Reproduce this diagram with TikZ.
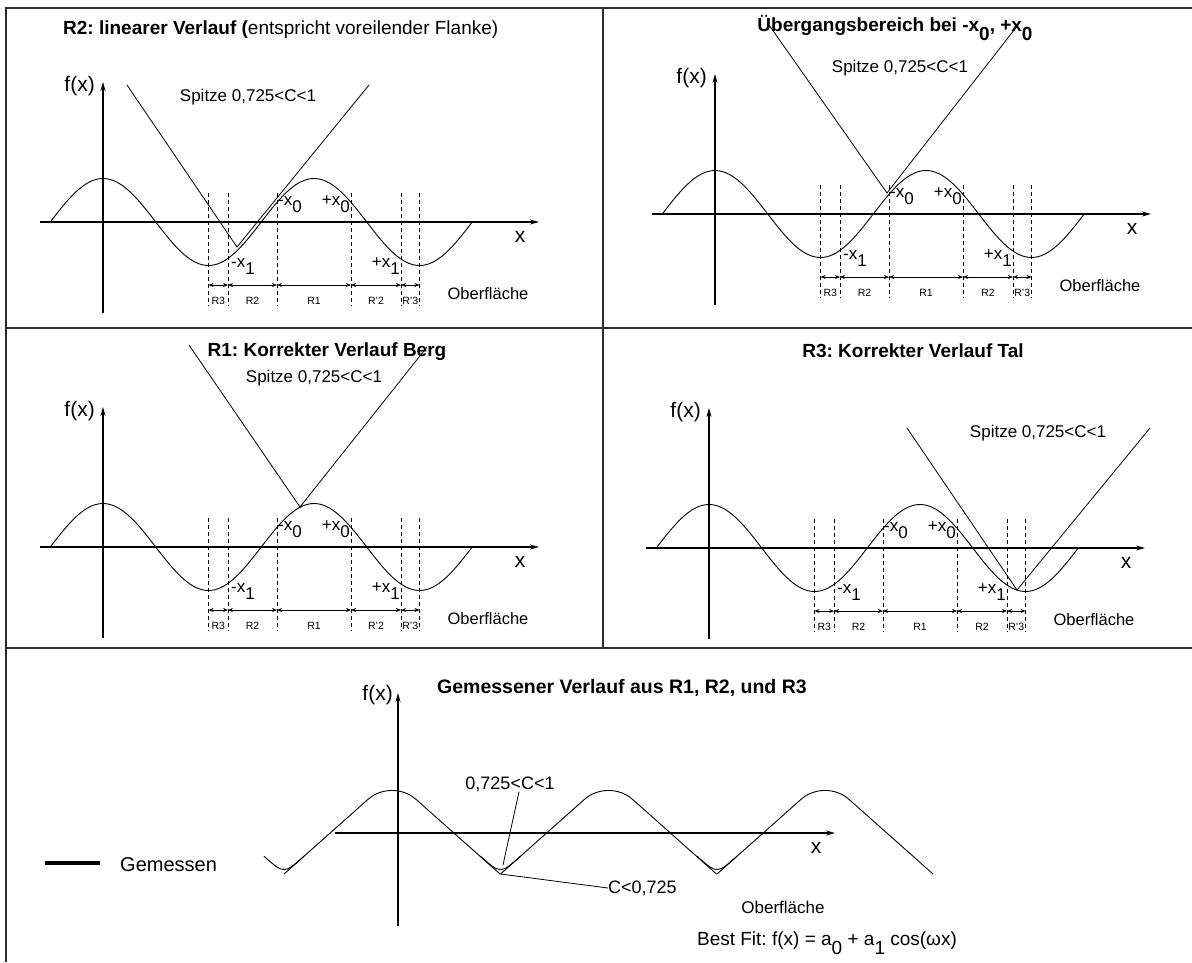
\documentclass[tikz,border=0pt]{standalone}
\usepackage{fontspec}
\setmainfont{Liberation Sans}
\usetikzlibrary{arrows.meta, positioning}
\definecolor{framegray}{RGB}{45, 45, 45}
\frenchspacing

\tikzset{
  frameline/.style={framegray, line width=1.8pt},
  axis/.style={line width=1.1pt, -{Stealth[length=9pt, width=5pt]}},
  curve/.style={line width=0.9pt},
  vline/.style={line width=0.8pt},
  guide/.style={line width=0.7pt, dash pattern=on 4pt off 3pt},
  span/.style={line width=0.7pt, {Stealth[length=5pt, width=4pt]}-{Stealth[length=5pt, width=4pt]}},
  title/.style={inner sep=0pt, font=\fontsize{19}{22}\selectfont\bfseries},
  axlabel/.style={inner sep=0pt, font=\fontsize{21}{24}\selectfont},
  spitze/.style={inner sep=0pt, font=\fontsize{17}{20}\selectfont},
  surface/.style={inner sep=0pt, font=\fontsize{16.5}{19}\selectfont},
  xmark/.style={inner sep=0pt, font=\fontsize{17}{20}\selectfont},
  region/.style={inner sep=0pt, font=\fontsize{10.5}{12}\selectfont},
  bottomtext/.style={inner sep=0pt, font=\fontsize{18}{21}\selectfont}
}
\newcommand{\low}[1]{\raisebox{-0.45em}{#1}}

\begin{document}
\begin{tikzpicture}[x=1pt, y=-1pt]

  \useasboundingbox (0, 0) rectangle (1192, 962);

  % frame
  \draw[frameline] (1192, 8) -- (6, 8) -- (6, 962);
  \draw[frameline] (603, 8) -- (603, 648);
  \draw[frameline] (6, 328) -- (1192, 328);
  \draw[frameline] (6, 648) -- (1192, 648);

  % the four small plots
  \pgfmathsetmacro{\freq}{360 / 211}
  \foreach \p/\ox/\oy/\rr in {a/103/222/R'2, b/715/214/R2, c/103/547/R'2, d/709/548/R2} {
    \begin{scope}[shift={(\ox, \oy)}]

      \draw[axis] (0, 91) -- (0, -140);
      \draw[axis] (-63, 0) -- (436, 0);
      \node[axlabel, anchor=east] (fx\p) at (-8, -136) {f(x)};
      \node[axlabel] (x\p) at (417, 15) {x};

      \draw[curve, domain=-52.75:369.25, samples=140, smooth]
        plot (\x, {-43.5 * cos(\freq * \x)});

      \foreach \xx in {105.5, 125, 174, 248, 298, 316.5} {
        \draw[guide] (\xx, -29) -- (\xx, 84);
      }
      \foreach \a/\b/\r in {105.5/125/R3, 125/174/R2, 174/248/R1, 248/298/\rr, 298/316.5/R'3} {
        \draw[span] (\a, 63) -- (\b, 63);
        \node[region] at ({(\a + \b) / 2}, 79) {\r};
      }

      \node[xmark, anchor=base west] (mx0\p) at (175, -17) {-x\low{0}};
      \node[xmark, anchor=base east] (px0\p) at (247, -17) {+x\low{0}};
      \node[xmark, anchor=base west] (mx1\p) at (128, 45) {-x\low{1}};
      \node[xmark, anchor=base east] (px1\p) at (297, 45) {+x\low{1}};

      \node[surface] (surf\p) at (385, 72) {Oberfläche};

    \end{scope}
  }

  % titles
  \node[title, anchor=west] (tA) at (63, 30)
    {R2: linearer Verlauf (\mdseries entspricht voreilender Flanke)};
  \node[title] (tB) at (895, 28) {Übergangsbereich bei -x\low{0}, +x\low{0}};
  \node[title] (tC) at (327, 352) {R1: Korrekter Verlauf Berg};
  \node[title] (tD) at (913, 351) {R3: Korrekter Verlauf Tal};

  % tips
  \coordinate (vA) at (237, 247);
  \coordinate (vB) at (887, 193);
  \coordinate (vC) at (300, 507);
  \coordinate (vD) at (1017, 590);
  \draw[vline] (vA) ++(-110, -162) -- (vA) -- ++(132, -162);
  \draw[vline] (vB) ++(-118, -168) -- (vB) -- ++(131, -168);
  \draw[vline] (vC) ++(-111, -162) -- (vC) -- ++(127, -160);
  \draw[vline] (vD) ++(-110, -162) -- (vD) -- ++(133, -162);
  \node[spitze] (sA) at (248, 97) {Spitze 0,725<C<1};
  \node[spitze] (sB) at (900, 68) {Spitze 0,725<C<1};
  \node[spitze] (sC) at (314, 378) {Spitze 0,725<C<1};
  \node[spitze] (sD) at (1038, 433) {Spitze 0,725<C<1};

  % measured curve
  \draw[axis] (398, 926) -- (398, 693);
  \draw[axis] (335, 833) -- (835, 833);
  \node[axlabel, anchor=east] (fxe) at (393, 695) {f(x)};
  \node[axlabel] (xe) at (816, 848) {x};
  \node[title, anchor=west, font=\fontsize{19.5}{22}\selectfont\bfseries] (tE) at (437, 688)
    {Gemessener Verlauf aus R1, R2, und R3};

  \foreach \pk in {392, 608.5, 825} {
    \draw[curve, rounded corners=32pt] (\pk - 108, 874) -- (\pk, 778) -- (\pk + 108, 874);
  }
  \foreach \tr in {284, 500.5, 717} {
    \draw[curve] (\tr - 20, 856.2) .. controls (\tr, 874) .. (\tr + 20, 856.2);
  }

  \coordinate (tip) at (500.5, 874);
  \coordinate (round) at (503, 865);
  \node[bottomtext] (cHigh) at (510, 784) {0,725<C<1};
  \node[bottomtext, anchor=west] (cLow) at (608, 888) {C<0,725};
  \draw[vline] ([xshift=9pt]cHigh.south) -- (round);
  \draw[vline] (tip) -- (cLow.west);

  \node[surface, font=\fontsize{17}{20}\selectfont] (surfE) at (783, 907) {Oberfläche};
  \node[bottomtext, font=\fontsize{19}{22}\selectfont] (fit) at (827, 943)
    {Best Fit: f(x) = a\low{0} + a\low{1} cos(ωx)};

  \coordinate (lgA) at (45, 863);
  \coordinate (lgB) at (100, 863);
  \draw[line width=3.5pt] (lgA) -- (lgB);
  \node[bottomtext, anchor=west, font=\fontsize{20}{23}\selectfont] (lgText) at (120, 865) {Gemessen};

\end{tikzpicture}
\end{document}
